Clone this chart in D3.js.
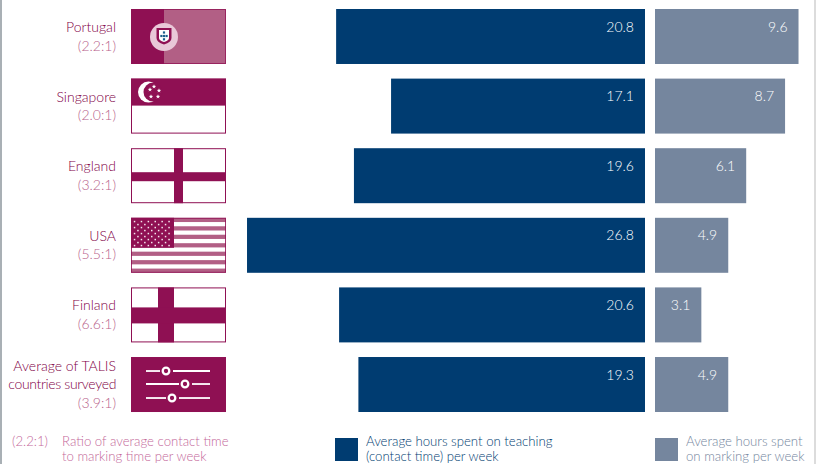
<!DOCTYPE html>
<html>
<head>
<meta charset="utf-8">
<script src="https://cdn.jsdelivr.net/npm/d3@7/dist/d3.min.js"></script>
<style>
  html, body { margin: 0; padding: 0; background: #fff; }
  svg { display: block; }
  text { font-family: Lato, "Open Sans", sans-serif; font-weight: 300; }
</style>
</head>
<body>
<svg id="chart" width="816" height="464"></svg>
<script>
// Teaching and marking hours per week, by country
const countries = ["Portugal", "Singapore", "England", "USA", "Finland", "Average of TALIS countries surveyed"];
const nameLines = [["Portugal"], ["Singapore"], ["England"], ["USA"], ["Finland"], ["Average of TALIS", "countries surveyed"]];
const ratios = ["(2.2:1)", "(2.0:1)", "(3.2:1)", "(5.5:1)", "(6.6:1)", "(3.9:1)"];
const teachingHours = [20.8, 17.1, 19.6, 26.8, 20.6, 19.3];
const markingHours = [9.6, 8.7, 6.1, 4.9, 3.1, 4.9];
const flagKinds = ["portugal", "singapore", "england", "usa", "finland", "sliders"];

const PLUM = "#8f1053", ROSE = "#b25f85", RATIO = "#b85f8b", LEGEND_ROSE = "#c4689a";
const NAVY = "#003c71", SLATE = "#75869e";

const svg = d3.select("#chart");

// Page edge rules
svg.append("rect").attr("x", 0).attr("y", 0).attr("width", 2).attr("height", 464).attr("fill", "#a9b0b5");
svg.append("rect").attr("x", 814).attr("y", 0).attr("width", 2).attr("height", 464).attr("fill", "#dcdcdc");

const y = d3.scaleBand().domain(countries).range([9, 412]).paddingInner(0.21).paddingOuter(0);
const xTeach = d3.scaleLinear().domain([0, 30]).range([645, 645 - 30 * 14.85]);
const xMark = d3.scaleLinear().domain([0, 30]).range([655, 655 + 30 * 14.95]);

const rows = svg.selectAll("g.row").data(countries).join("g").attr("class", "row")
  .attr("transform", d => `translate(0,${y(d)})`);

// Teaching bars grow leftwards from a shared baseline
rows.append("rect")
  .attr("x", (d, i) => xTeach(teachingHours[i]))
  .attr("width", (d, i) => xTeach(0) - xTeach(teachingHours[i]))
  .attr("height", y.bandwidth())
  .attr("fill", NAVY);

rows.append("text")
  .attr("x", 634).attr("y", 22.5)
  .attr("text-anchor", "end").attr("font-size", 14).attr("fill", "#ffffff")
  .text((d, i) => teachingHours[i].toFixed(1));

rows.append("rect")
  .attr("x", xMark(0))
  .attr("width", (d, i) => xMark(markingHours[i]) - xMark(0))
  .attr("height", y.bandwidth())
  .attr("fill", SLATE);

rows.append("text")
  .attr("x", (d, i) => xMark(markingHours[i]) - 11).attr("y", 22.5)
  .attr("text-anchor", "end").attr("font-size", 14).attr("fill", "#ffffff")
  .text((d, i) => markingHours[i].toFixed(1));

// Country names with their ratio underneath
rows.each(function (d, i) {
  const g = d3.select(this);
  const lines = nameLines[i];
  const top = lines.length > 1 ? 13.5 : 23;
  lines.forEach((line, k) => {
    g.append("text").attr("x", 116).attr("y", top + k * 18.5)
      .attr("text-anchor", "end").attr("font-size", 14).attr("fill", "#7f0046")
      .attr("letter-spacing", line.length > 16 ? -0.35 : 0).text(line);
  });
  g.append("text").attr("x", 116).attr("y", top + lines.length * 18.5)
    .attr("text-anchor", "end").attr("font-size", 14).attr("fill", RATIO).text(ratios[i]);
});

// Flag artwork, each in a 95 x 55 box
const FW = 95, FH = 55;
const flags = rows.append("g").attr("transform", "translate(131,0)");

function star(g, cx, cy, r, fill) {
  const pts = d3.range(10).map(k => {
    const a = -Math.PI / 2 + k * Math.PI / 5, rr = k % 2 ? r * 0.42 : r;
    return [cx + rr * Math.cos(a), cy + rr * Math.sin(a)];
  });
  g.append("polygon").attr("points", pts.join(" ")).attr("fill", fill);
}

const drawFlag = {
  portugal(g) {
    g.append("rect").attr("width", FW).attr("height", FH).attr("fill", ROSE);
    g.append("rect").attr("x", 0.5).attr("y", 0.5).attr("width", FW - 1).attr("height", FH - 1)
      .attr("fill", "none").attr("stroke", PLUM).attr("stroke-opacity", 0.75);
    g.append("rect").attr("width", 33).attr("height", FH).attr("fill", PLUM);
    g.append("circle").attr("cx", 33).attr("cy", 28).attr("r", 14).attr("fill", "#e9c8d8");
    g.append("path").attr("d", "M25.5 19H40.5V29Q40.5 33 33 35.5Q25.5 33 25.5 29Z").attr("fill", PLUM);
    g.append("path").attr("d", "M28 21H38V29Q38 31.5 33 33Q28 31.5 28 29Z").attr("fill", "#fff");
    [[33, 23.5], [30.4, 27], [33, 27], [35.6, 27], [33, 30.3]].forEach(([cx, cy]) => {
      g.append("rect").attr("x", cx - 1.1).attr("y", cy - 1.1).attr("width", 2.2).attr("height", 2.2).attr("fill", "#1c5f8c");
    });
  },
  singapore(g) {
    g.append("rect").attr("x", 0.5).attr("y", 0.5).attr("width", FW - 1).attr("height", FH - 1)
      .attr("fill", "#fff").attr("stroke", PLUM);
    g.append("rect").attr("width", FW).attr("height", 27).attr("fill", PLUM);
    g.append("circle").attr("cx", 17.5).attr("cy", 13.5).attr("r", 10.5).attr("fill", "#fff");
    g.append("circle").attr("cx", 22).attr("cy", 13.5).attr("r", 9.5).attr("fill", PLUM);
    [[23, 8], [28, 12], [27, 18], [20, 18], [19, 11]].forEach(([cx, cy]) => {
      star(g, cx, cy, 2.3, "#fff");
    });
  },
  england(g) { cross(g, 43, 9, 24, 9); },
  finland(g) { cross(g, 27, 16, 20, 16); },
  usa(g) {
    g.append("rect").attr("width", FW).attr("height", FH).attr("fill", "#fff");
    const sh = FH / 13;
    d3.range(0, 13, 2).forEach(k => {
      g.append("rect").attr("y", k * sh).attr("width", FW).attr("height", sh).attr("fill", ROSE);
    });
    g.append("rect").attr("x", 0.5).attr("y", 0.5).attr("width", FW - 1).attr("height", FH - 1)
      .attr("fill", "none").attr("stroke", PLUM).attr("stroke-opacity", 0.85);
    g.append("rect").attr("width", 43).attr("height", 30).attr("fill", PLUM);
    d3.range(9).forEach(r => {
      const n = r % 2 ? 5 : 6;
      d3.range(n).forEach(c => {
        g.append("rect").attr("x", (r % 2 ? 6.2 : 2.8) + c * 6.9).attr("y", 3 + r * 3)
          .attr("width", 1.5).attr("height", 1.5).attr("fill", "#fff").attr("opacity", 0.9);
      });
    });
  },
  sliders(g) {
    g.append("rect").attr("width", FW).attr("height", FH).attr("fill", PLUM);
    [[14, 35], [27, 54], [41, 41]].forEach(([ly, kx]) => {
      g.append("line").attr("x1", 15).attr("x2", kx - 6).attr("y1", ly).attr("y2", ly).attr("stroke", "#fff").attr("stroke-width", 1.8);
      g.append("line").attr("x1", kx + 7).attr("x2", 79).attr("y1", ly).attr("y2", ly).attr("stroke", "#fff").attr("stroke-width", 1.8);
      g.append("circle").attr("cx", kx).attr("cy", ly).attr("r", 3.3).attr("fill", PLUM).attr("stroke", "#fff").attr("stroke-width", 2.3);
    });
  }
};

function cross(g, vx, vw, hy, hh) {
  g.append("rect").attr("x", 0.5).attr("y", 0.5).attr("width", FW - 1).attr("height", FH - 1)
    .attr("fill", "#fff").attr("stroke", PLUM);
  g.append("rect").attr("x", vx).attr("width", vw).attr("height", FH).attr("fill", PLUM);
  g.append("rect").attr("y", hy).attr("width", FW).attr("height", hh).attr("fill", PLUM);
}

flags.each(function (d, i) { drawFlag[flagKinds[i]](d3.select(this)); });

// Key along the bottom
const legend = svg.append("g").attr("font-size", 13.2);
const legendText = (x, yPos, fill, s) =>
  legend.append("text").attr("x", x).attr("y", yPos).attr("fill", fill).text(s);

legendText(12, 446, LEGEND_ROSE, "(2.2:1)");
legendText(62, 446, LEGEND_ROSE, "Ratio of average contact time");
legendText(62, 461, LEGEND_ROSE, "to marking time per week");

legend.append("rect").attr("x", 335).attr("y", 438).attr("width", 23).attr("height", 23).attr("fill", NAVY);
legendText(366, 446, NAVY, "Average hours spent on teaching");
legendText(366, 461, NAVY, "(contact time) per week");

legend.append("rect").attr("x", 655).attr("y", 438).attr("width", 23).attr("height", 23).attr("fill", SLATE);
legendText(686, 446, "#75869e", "Average hours spent");
legendText(686, 461, "#75869e", "on marking per week");
</script>
</body>
</html>
